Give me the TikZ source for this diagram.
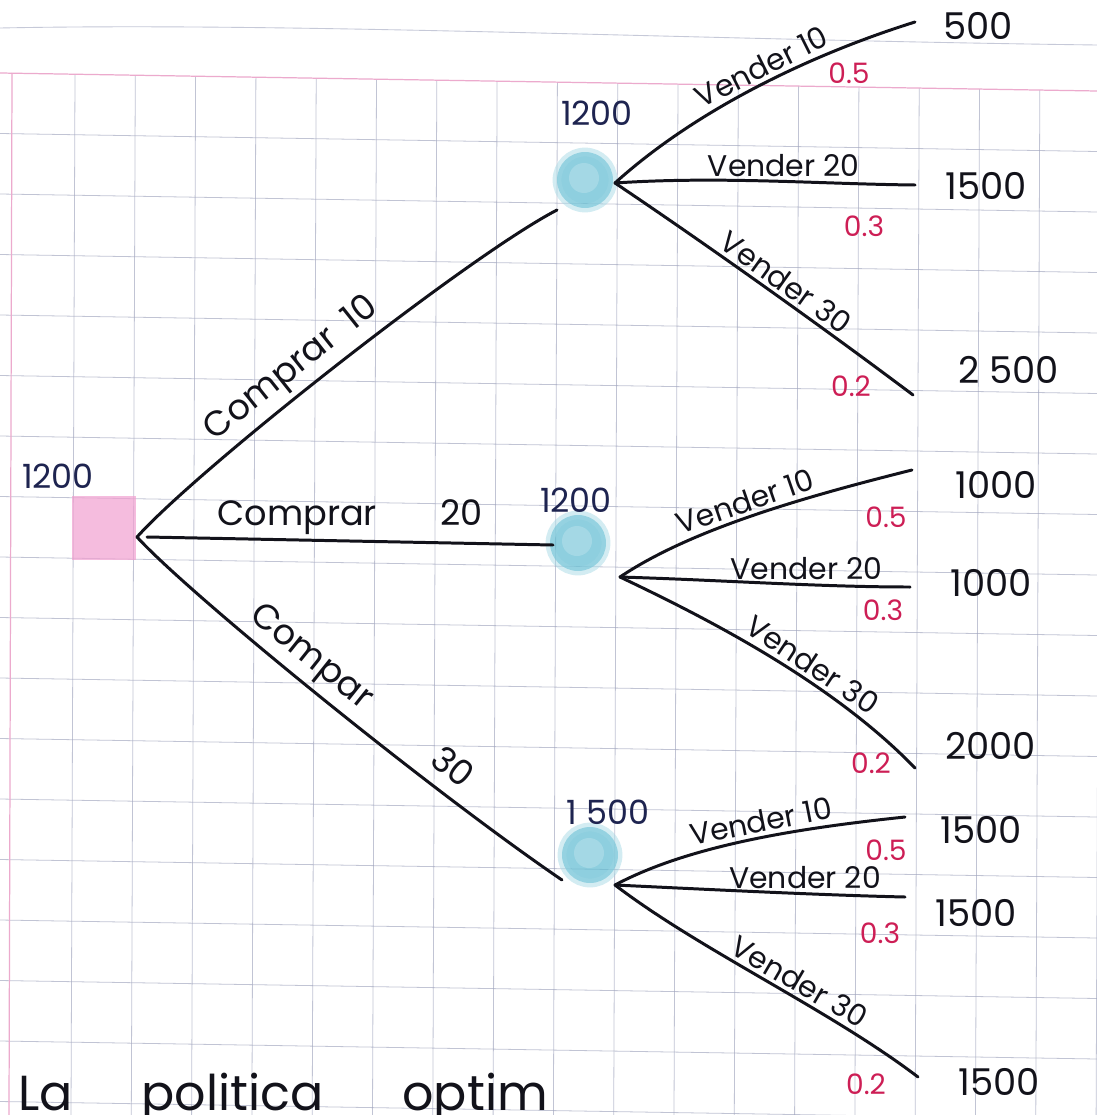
\documentclass[tikz,border=0pt]{standalone}
\usepackage{fontspec}
\usetikzlibrary{fadings}
\setmainfont{Poppins}
\definecolor{gridc}{RGB}{160,165,190}
\definecolor{pinkline}{RGB}{236,170,205}
\definecolor{blobc}{RGB}{95,188,210}
\definecolor{pinkfill}{RGB}{242,160,208}
\definecolor{inkc}{RGB}{18,18,26}
\definecolor{probc}{RGB}{205,30,85}
\definecolor{navy}{RGB}{30,36,80}
\begin{document}
\begin{tikzpicture}[x=0.02cm,y=-0.02cm,
  edge/.style={draw=inkc, line width=1.7pt, line cap=round},
  gridline/.style={draw=gridc, line width=0.45pt, opacity=0.65},
  blob/.style={circle, minimum size=56*0.02cm, inner sep=0pt, fill=blobc, fill opacity=0.7,
               draw=blobc!60, line width=5pt, draw opacity=0.45},
  blobcore/.style={circle, minimum size=30*0.02cm, inner sep=0pt, fill=white, fill opacity=0.2},
  rootbox/.style={rectangle, minimum size=64*0.02cm, inner sep=0pt, fill=pinkfill, fill opacity=0.7},
  vlab/.style={text=inkc, font=\fontsize{17}{19}\selectfont, inner sep=2pt},
  clab/.style={text=inkc, font=\fontsize{20}{22}\selectfont, inner sep=3pt},
  prob/.style={text=probc, font=\fontsize{16}{18}\selectfont, inner sep=0pt},
  pay/.style={text=inkc, font=\fontsize{21}{23}\selectfont, inner sep=0pt, anchor=west},
  val/.style={text=navy, font=\fontsize{19}{21}\selectfont, inner sep=0pt}]
% paper
\fill[white] (0,0) rectangle (1097,1115);
\useasboundingbox (0,0) rectangle (1097,1115);
\begin{scope}
\clip (0,0) rectangle (1097,1115);
\draw[gridc, line width=0.5pt, opacity=0.6] (0,28) .. controls (300,22) and (700,40) .. (1097,45);
\foreach \k in {0,...,17} {
  \pgfmathsetmacro{\xx}{75+60.3*\k}
  \pgfmathsetmacro{\yy}{73+0.0164*\xx}
  \draw[gridline] (\xx,\yy) -- (\xx-4,1115);
}
\foreach \k in {1,...,18} {
  \draw[gridline] (0,73+60.5*\k) -- (1097,91+60.5*\k);
}
\draw[pinkline, line width=0.7pt] (0,73) -- (1097,91);
\draw[pinkline, line width=0.7pt] (12,73) -- (9,1115);
\end{scope}

% decision and chance nodes
\node[rootbox] (root) at (104,528) {};
\node[blob] (A) at (585,180) {};
\node[blob] (B) at (578,543) {};
\node[blob] (C) at (590,855) {};
\node[blobcore] (Ac) at (584,178) {};
\node[blobcore] (Bc) at (577,541) {};
\node[blobcore] (Cc) at (589,853) {};
\node[val] (rootv) at (58,476) {1200};
\node[val] (Av) at (597,113) {1200};
\node[val] (Bv) at (576,500) {1200};
\node[val] (Cv) at (608,812) {1 500};

\coordinate (r) at (137,537);
\coordinate (Ain) at (557,210);
\coordinate (Bin) at (553,545);
\coordinate (Cin) at (562,880);
\coordinate (a) at (615,183);
\coordinate (b) at (620,577);
\coordinate (c) at (615,885);

% first stage
\draw[edge] (r) .. controls (200,467) and (470,255) .. (Ain)
  node[clab, sloped, above, pos=0.44] {Comprar\hspace{0.5em}10};
\draw[edge] (r) ++(10,0) -- (Bin)
  node[clab, above, pos=0.5] {Comprar\hspace{1.8em}20};
\draw[edge] (r) .. controls (190,595) and (430,790) .. (Cin)
  node[clab, sloped, above, pos=0.55] {Compar\hspace{2.4em}30};

% end points
\coordinate (t1) at (915,22);
\coordinate (t2) at (915,185);
\coordinate (t3) at (913,395);
\coordinate (m1) at (912,470);
\coordinate (m2) at (910,587);
\coordinate (m3) at (915,768);
\coordinate (b1) at (905,817);
\coordinate (b2) at (905,897);
\coordinate (b3) at (918,1077);

% payoffs
\node[pay] (p1) at (943,26) {500};
\node[pay] (p2) at (945,186) {1500};
\node[pay] (p3) at (958,370) {2 500};
\node[pay] (p4) at (955,485) {1000};
\node[pay] (p5) at (950,583) {1000};
\node[pay] (p6) at (945,746) {2000};
\node[pay] (p7) at (940,830) {1500};
\node[pay] (p8) at (935,913) {1500};
\node[pay] (p9) at (958,1082) {1500};

% top chance node
\draw[edge] (a) .. controls (690,115) and (800,58) .. (t1)
  node[vlab, sloped, above, pos=0.56] {Vender 10};
\draw[edge] (a) .. controls (720,176) and (820,184) .. (t2)
  node[vlab, above, pos=0.55] {Vender 20};
\draw[edge] (a) .. controls (700,240) and (820,325) .. (t3)
  node[vlab, sloped, above, pos=0.55] {Vender 30};
\node[prob] (q1) at (849,73) {0.5};
\node[prob] (q2) at (864,226) {0.3};
\node[prob] (q3) at (851,386) {0.2};

% middle chance node
\draw[edge] (b) .. controls (690,530) and (800,498) .. (m1)
  node[vlab, sloped, above, pos=0.5] {Vender 10};
\draw[edge] (b) .. controls (720,580) and (820,587) .. (m2)
  node[vlab, above, pos=0.63] {Vender 20};
\draw[edge] (b) .. controls (700,615) and (830,680) .. (m3)
  node[vlab, sloped, above, pos=0.62] {Vender 30};
\node[prob] (q4) at (886,517) {0.5};
\node[prob] (q5) at (883,610) {0.3};
\node[prob] (q6) at (871,763) {0.2};

% bottom chance node
\draw[edge] (c) .. controls (690,845) and (800,828) .. (b1)
  node[vlab, sloped, above, pos=0.55] {Vender 10};
\draw[edge] (c) .. controls (720,890) and (820,895) .. (b2)
  node[vlab, above, pos=0.63] {Vender 20};
\draw[edge] (c) .. controls (700,950) and (830,1010) .. (b3)
  node[vlab, sloped, above, pos=0.58] {Vender 30};
\node[prob] (q7) at (886,850) {0.5};
\node[prob] (q8) at (880,933) {0.3};
\node[prob] (q9) at (866,1084) {0.2};

% footer text
\begin{scope}
\clip (0,0) rectangle (1097,1115);
\node[text=inkc, font=\fontsize{28}{30}\selectfont, anchor=base west, inner sep=0pt] (foot) at (18,1110)
  {La\hspace{1.4em}politica\hspace{1.6em}optim};
\end{scope}
\end{tikzpicture}
\end{document}
